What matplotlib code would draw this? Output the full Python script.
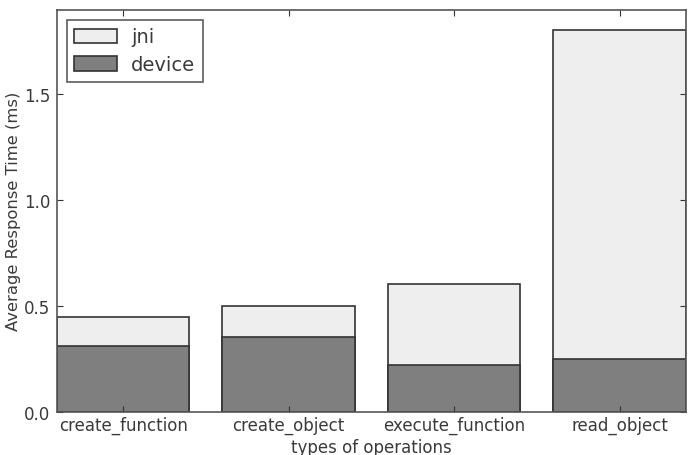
import numpy as np
import matplotlib
matplotlib.use('Agg')
import matplotlib.pyplot as plt

# data
operations = ['create_function', 'create_object', 'execute_function', 'read_object']
total_time = [0.445, 0.50, 0.60, 1.80]   # jni (stack top)
device_time = [0.31, 0.35, 0.22, 0.25]

plt.rcParams['font.family'] = 'DejaVu Sans'
edge = '#333333'
text_col = '#3a3a3a'

fig = plt.figure(figsize=(6.9, 4.56), dpi=100)
ax = fig.add_axes([0.0826, 0.095, 0.9114, 0.881])

x = np.arange(len(operations))
width = 0.8
ax.bar(x, total_time, width, align='edge', color='#eeeeee', edgecolor=edge, linewidth=1.2, label='jni')
ax.bar(x, device_time, width, align='edge', color='#7f7f7f', edgecolor=edge, linewidth=1.2, label='device')

ax.set_xlim(0, 3.8)
ax.set_ylim(0, 1.895)
ax.set_xticks(x + width / 2)
ax.set_xticklabels(operations)
ax.set_yticks([0.0, 0.5, 1.0, 1.5])
ax.tick_params(direction='in', top=True, right=True, length=4, width=0.8,
               labelsize=12, colors=edge, labelcolor=text_col)
ax.tick_params(axis='x', pad=3)
ax.tick_params(axis='y', pad=5)
for s in ax.spines.values():
    s.set_color('#555555')
    s.set_linewidth(1.2)

ax.set_xlabel('types of operations', fontsize=12, color=text_col, labelpad=3)
ax.set_ylabel('Average Response Time (ms)', fontsize=11.8, color=text_col, labelpad=2)

leg = ax.legend(loc='upper left', fontsize=14, fancybox=False, handlelength=2.2,
                handleheight=0.75, handletextpad=0.7, borderpad=0.4,
                borderaxespad=0.5, labelspacing=0.45)
leg.get_frame().set_edgecolor(edge)
leg.get_frame().set_linewidth(1.2)
for t in leg.get_texts():
    t.set_color(text_col)

fig.savefig('out.png', dpi=100)
